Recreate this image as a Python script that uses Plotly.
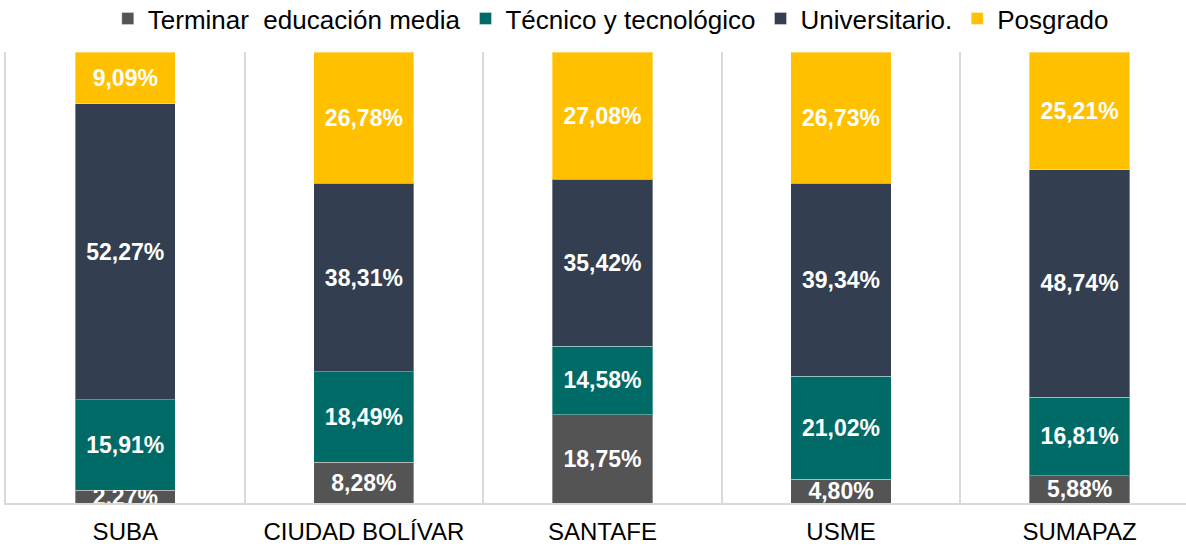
import plotly.graph_objects as go

categories = ["SUBA", "CIUDAD BOLÍVAR", "SANTAFE", "USME", "SUMAPAZ"]
series_names = ["Terminar  educación media", "Técnico y tecnológico", "Universitario.", "Posgrado"]
terminar = [2.27, 8.28, 18.75, 4.80, 5.88]
tecnico = [15.91, 18.49, 14.58, 21.02, 16.81]
universitario = [52.27, 38.31, 35.42, 39.34, 48.74]
posgrado = [9.09, 26.78, 27.08, 26.73, 25.21]
colors = ["#545454", "#006A66", "#333F50", "#FFC000"]

fig = go.Figure()
for name, vals, col in zip(series_names, [terminar, tecnico, universitario, posgrado], colors):
    fig.add_trace(go.Bar(
        x=categories, y=vals, name=name,
        marker=dict(color=col, line=dict(color="rgba(255,255,255,0.35)", width=1)),
        text=vals, texttemplate="%{text:.2f}%",
        textposition="inside", insidetextanchor="middle", constraintext="none",
        textfont=dict(family="Liberation Sans, Arial", size=23, color="white", weight="bold"),
        width=0.42,
    ))

fig.update_layout(
    barmode="stack", barnorm="percent", separators=",.",
    width=1186, height=546,
    margin=dict(l=6, r=0, t=52, b=43),
    paper_bgcolor="white", plot_bgcolor="white",
    font=dict(family="Liberation Sans, Arial", color="black"),
    showlegend=True,
    legend=dict(orientation="h", x=0.515, xanchor="center", y=0.966, yanchor="middle",
                xref="container", yref="container",
                font=dict(size=26), itemwidth=30, traceorder="normal",
                bgcolor="rgba(0,0,0,0)"),
)
fig.update_xaxes(range=[-0.5, 4.446], tickson="boundaries", showgrid=True, gridcolor="#d9d9d9",
                 gridwidth=1.5, ticks="", showline=True, linecolor="#d9d9d9", linewidth=2,
                 ticklabelstandoff=6,
                 tickfont=dict(size=24, color="black"))
fig.update_yaxes(range=[0, 100], showticklabels=False, showgrid=False, zeroline=False,
                 showline=True, linecolor="#d9d9d9", linewidth=2)

fig.write_html("out.html", config={"displayModeBar": False},
               post_script="document.body.style.margin='0';")
